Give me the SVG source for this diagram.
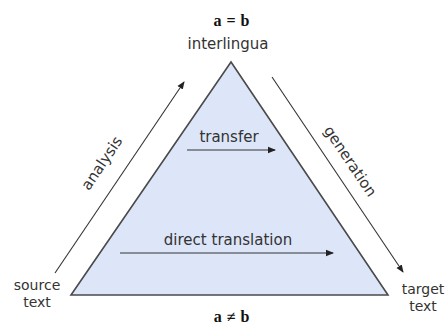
<svg xmlns="http://www.w3.org/2000/svg" width="446" height="324" viewBox="0 0 446 324">
<defs>
<marker id="ah" markerWidth="8" markerHeight="8" refX="7" refY="4" orient="auto" markerUnits="userSpaceOnUse">
<path d="M0,0.8 L8,4 L0,7.2 Z" fill="#222"/>
</marker>
<style>
.lbl{font-family:"DejaVu Sans",sans-serif;font-size:15px;fill:#333;text-anchor:middle}
.cor{font-size:14px}
.math{font-family:"Liberation Serif",serif;font-size:16px;font-weight:bold;fill:#111;text-anchor:middle;letter-spacing:5px}
.ln{stroke:#333;stroke-width:1.1;fill:none;marker-end:url(#ah)}
</style>
</defs>
<rect width="446" height="324" fill="#fff"/>
<g id="triangle">
<polygon points="231,62 71,295 388,295" fill="#dce6f8" stroke="#4a4a4a" stroke-width="1.6" stroke-linejoin="miter"/>
</g>
<g id="connectors">
<line class="ln" x1="55" y1="273" x2="184" y2="82"/>
<line class="ln" x1="272" y1="77" x2="403" y2="272"/>
<line class="ln" x1="187" y1="150" x2="275" y2="150"/>
<line class="ln" x1="120" y1="253" x2="333" y2="253"/>
</g>
<g id="interlingua">
<text class="math" x="234" y="26">a=b</text>
<text class="lbl" x="228" y="49">interlingua</text>
</g>
<g id="source">
<text class="lbl cor" x="37" y="290">source</text>
<text class="lbl cor" x="37" y="307">text</text>
</g>
<g id="target">
<text class="lbl cor" x="423" y="294">target</text>
<text class="lbl cor" x="423" y="311">text</text>
</g>
<g id="bottom">
<text class="math" x="234" y="322">a≠b</text>
</g>
<g id="labels">
<text class="lbl" transform="translate(106,166) rotate(-56)">analysis</text>
<text class="lbl" transform="translate(346,164) rotate(56)">generation</text>
<text class="lbl" x="229" y="142">transfer</text>
<text class="lbl" x="228" y="245">direct translation</text>
</g>
</svg>
